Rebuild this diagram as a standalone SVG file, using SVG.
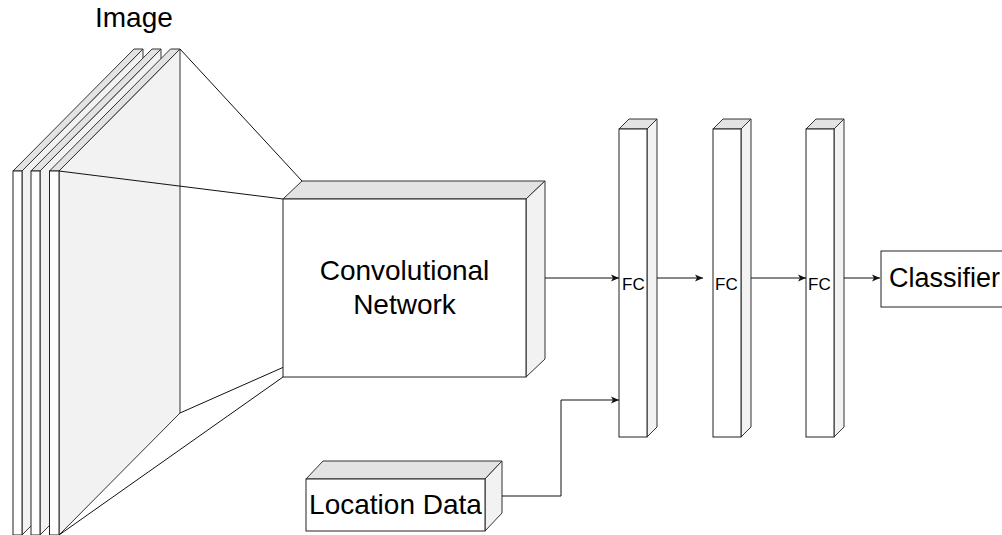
<svg xmlns="http://www.w3.org/2000/svg" width="1002" height="535" viewBox="0 0 1002 535">
<style>
  .front { fill: #ffffff; stroke: #222; stroke-width: 1; }
  .top { fill: #e3e3e3; stroke: #333; stroke-width: 1; stroke-linejoin: round; }
  .side { fill: #f2f2f2; stroke: #333; stroke-width: 1; stroke-linejoin: round; }
  .line { fill: none; stroke: #111; stroke-width: 1; }
  .conn { fill: none; stroke: #111; stroke-width: 1; }
  .lbl { font-family: "Liberation Sans", Arial, sans-serif; font-size: 28px; fill: #000; }
  .fc { font-family: "Liberation Sans", Arial, sans-serif; font-size: 17px; fill: #000; }
</style>
<defs>
  <marker id="arr" markerUnits="userSpaceOnUse" markerWidth="10" markerHeight="10" refX="8" refY="4" orient="auto">
    <path d="M0,0.5 L8,4 L0,7.5 L2,4 z" fill="#111"/>
  </marker>
</defs>
<rect width="1002" height="535" fill="#fff"/>

<g id="image">
  <g id="slice1">
    <polygon class="side" points="22,171 143,49 143,413 22,535"/>
    <polygon class="top" points="13,171 22,171 143,49 134,49"/>
    <rect class="front" x="13" y="171" width="9" height="364"/>
  </g>
  <g id="slice2">
    <polygon class="side" points="40,171 161,49 161,413 40,535"/>
    <polygon class="top" points="31,171 40,171 161,49 152,49"/>
    <rect class="front" x="31" y="171" width="9" height="364"/>
  </g>
  <g id="slice3">
    <polygon class="side" points="59,171 180,49 180,413 59,535"/>
    <polygon class="top" points="49.5,171 59,171 180,49 170.5,49"/>
    <rect class="front" x="49.5" y="171" width="9.5" height="364"/>
  </g>
  <text class="lbl" x="95" y="27">Image</text>
</g>

<g id="frustum">
  <line class="line" x1="180" y1="49" x2="302" y2="181"/>
  <line class="line" x1="59" y1="171" x2="283" y2="199"/>
  <line class="line" x1="180" y1="413" x2="302" y2="359"/>
  <line class="line" x1="59" y1="535" x2="283" y2="377"/>
</g>

<g id="conv">
  <polygon class="top" points="283,199 526,199 545,181 302,181"/>
  <polygon class="side" points="526,199 545,181 545,359 526,377"/>
  <rect class="front" x="283" y="199" width="243" height="178"/>
  <text class="lbl" x="404.5" y="280" text-anchor="middle">Convolutional</text>
  <text class="lbl" x="404.5" y="314" text-anchor="middle">Network</text>
</g>

<g id="fc1">
  <polygon class="top" points="619,129 647,129 657,119 629,119"/>
  <polygon class="side" points="647,129 657,119 657,427 647,437"/>
  <rect class="front" x="619" y="129" width="28" height="308"/>
  <text class="fc" x="622" y="290">FC</text>
</g>
<g id="fc2">
  <polygon class="top" points="713,129 741,129 751,119 723,119"/>
  <polygon class="side" points="741,129 751,119 751,427 741,437"/>
  <rect class="front" x="713" y="129" width="28" height="308"/>
  <text class="fc" x="715" y="290">FC</text>
</g>
<g id="fc3">
  <polygon class="top" points="806,129 834,129 844,119 816,119"/>
  <polygon class="side" points="834,129 844,119 844,427 834,437"/>
  <rect class="front" x="806" y="129" width="28" height="308"/>
  <text class="fc" x="808" y="290">FC</text>
</g>

<g id="classifier">
  <rect class="front" x="881" y="251" width="130" height="56"/>
  <text class="lbl" x="889" y="287" style="font-size:27px">Classifier</text>
</g>

<g id="location">
  <polygon class="top" points="306,479 485,479 502,461 323,461"/>
  <polygon class="side" points="485,479 502,461 502,513 485,531"/>
  <rect class="front" x="306" y="479" width="179" height="52"/>
  <text class="lbl" x="395.5" y="514" text-anchor="middle">Location Data</text>
</g>

<g id="connectors">
  <line class="conn" x1="545" y1="278" x2="619" y2="278" marker-end="url(#arr)"/>
  <line class="conn" x1="657" y1="278" x2="703" y2="278" marker-end="url(#arr)"/>
  <line class="conn" x1="751" y1="278" x2="806" y2="278" marker-end="url(#arr)"/>
  <line class="conn" x1="844" y1="278" x2="880" y2="278" marker-end="url(#arr)"/>
  <polyline class="conn" points="502,496 561,496 561,400 619,400" marker-end="url(#arr)"/>
</g>
</svg>
